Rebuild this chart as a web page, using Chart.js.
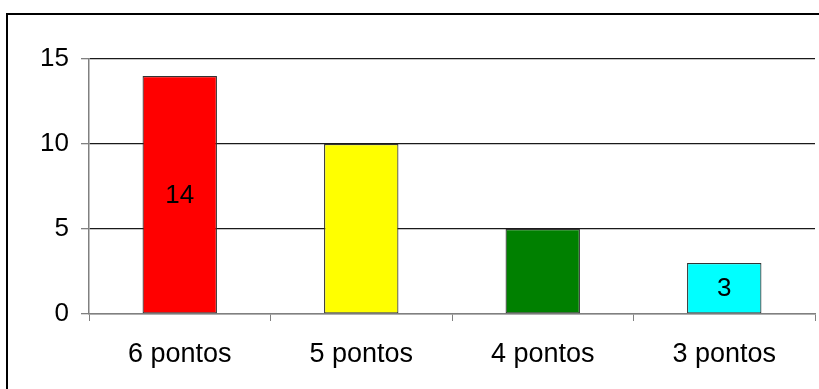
<!DOCTYPE html>
<html>
<head>
<meta charset="utf-8">
<script src="https://cdn.jsdelivr.net/npm/chart.js@4/dist/chart.umd.min.js"></script>
<style>
    html, body { margin: 0; padding: 0; background: #fff; overflow: hidden; }
    #wrap { position: relative; width: 819px; height: 389px; }
    #frame {
        position: absolute; left: 6px; top: 13px;
        width: 900px; height: 500px;
        border: 2px solid #000; box-sizing: border-box;
    }
    #chart { position: absolute; left: 0; top: 0; }
</style>
</head>
<body>
<div id="wrap">
    <div id="frame"></div>
    <canvas id="chart" width="819" height="389"></canvas>
</div>
<script>
// Pontuação por categoria
const categories = ['6 pontos', '5 pontos', '4 pontos', '3 pontos'];
const counts = [14, 10, 5, 3];
const barColors = ['#ff0000', '#ffff00', '#008000', '#00ffff'];
const showValue = [true, false, false, true];
const yTicks = [0, 5, 10, 15];

const FONT = 'Liberation Sans, Arial, sans-serif';
const AXIS_GRAY = '#808080';

// writes the value in the middle of the bars that carry one
const valueLabels = {
    id: 'valueLabels',
    afterDatasetsDraw(chart) {
        const ctx = chart.ctx;
        const meta = chart.getDatasetMeta(0);
        ctx.save();
        ctx.font = '26px ' + FONT;
        ctx.fillStyle = '#000';
        ctx.textAlign = 'center';
        ctx.textBaseline = 'middle';
        meta.data.forEach((bar, i) => {
            if (!showValue[i]) return;
            const mid = (bar.y + bar.base) / 2;
            ctx.fillText(String(counts[i]), bar.x, mid + 1);
        });
        ctx.restore();
    }
};

new Chart(document.getElementById('chart'), {
    type: 'bar',
    data: {
        labels: categories,
        datasets: [{
            data: counts,
            backgroundColor: barColors,
            borderColor: '#333333',
            borderWidth: 1.2,
            borderSkipped: false,
            categoryPercentage: 1,
            barPercentage: 0.41
        }]
    },
    options: {
        responsive: false,
        animation: false,
        devicePixelRatio: 1,
        layout: { padding: { top: 59, right: 4, left: 0, bottom: 0 } },
        plugins: {
            legend: { display: false },
            tooltip: { enabled: false }
        },
        scales: {
            x: {
                offset: true,
                afterFit: s => { s.height = 75; },
                grid: {
                    offset: true,
                    drawOnChartArea: false,
                    drawTicks: true,
                    tickLength: 7,
                    tickColor: AXIS_GRAY
                },
                border: { color: AXIS_GRAY, width: 1.5 },
                ticks: {
                    color: '#000',
                    padding: 17,
                    font: { family: FONT, size: 27 }
                }
            },
            y: {
                min: 0,
                max: 15,
                afterFit: s => { s.width = 89; },
                afterBuildTicks: s => { s.ticks = yTicks.map(v => ({ value: v })); },
                grid: {
                    color: c => (c.tick && c.tick.value === 0) ? AXIS_GRAY : '#1a1a1a',
                    lineWidth: 1.3,
                    tickLength: 8,
                    tickColor: AXIS_GRAY
                },
                border: { color: AXIS_GRAY, width: 1.5 },
                ticks: {
                    color: '#000',
                    padding: 12,
                    font: { family: FONT, size: 26 }
                }
            }
        }
    },
    plugins: [valueLabels]
});
</script>
</body>
</html>
